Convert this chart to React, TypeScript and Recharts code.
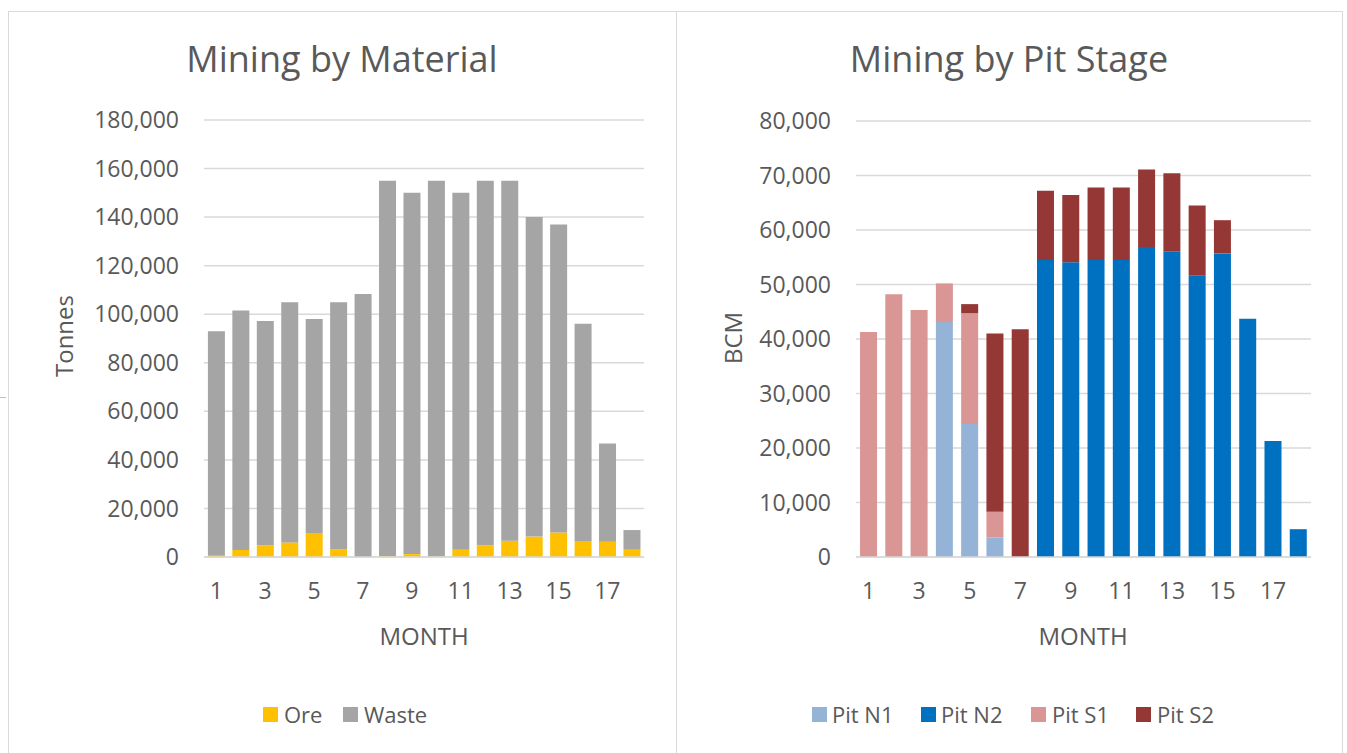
import React from 'react';
import { BarChart, Bar, XAxis, YAxis, CartesianGrid } from 'recharts';

const months = [1, 2, 3, 4, 5, 6, 7, 8, 9, 10, 11, 12, 13, 14, 15, 16, 17, 18];

// Mining by Material (tonnes)
const oreTonnes = [500, 2900, 4700, 6000, 9900, 3100, 0, 300, 1200, 200, 3000, 4700, 6700, 8400, 10100, 6600, 6300, 3000];
const wasteTonnes = [92500, 98600, 92500, 98900, 88100, 101800, 108300, 154700, 148800, 154800, 147000, 150300, 148300, 131600, 126900, 89500, 40400, 8100];

// Mining by Pit Stage (BCM)
const pitN1 = [0, 0, 0, 43100, 24400, 3600, 0, 0, 0, 0, 0, 0, 0, 0, 0, 0, 0, 0];
const pitN2 = [0, 0, 0, 0, 0, 0, 0, 54500, 54100, 54500, 54500, 56900, 56100, 51700, 55700, 43700, 21300, 5100];
const pitS1 = [41300, 48200, 45300, 7100, 20300, 4700, 0, 0, 0, 0, 0, 0, 0, 0, 0, 0, 0, 0];
const pitS2 = [0, 0, 0, 0, 1700, 32700, 41800, 12700, 12300, 13300, 13300, 14200, 14300, 12800, 6100, 0, 0, 0];

const materialTicks = [0, 20000, 40000, 60000, 80000, 100000, 120000, 140000, 160000, 180000];
const pitTicks = [0, 10000, 20000, 30000, 40000, 50000, 60000, 70000, 80000];

const materialData = months.map((m, i) => ({ month: m, Ore: oreTonnes[i], Waste: wasteTonnes[i] }));
const pitData = months.map((m, i) => ({
  month: m,
  'Pit N1': pitN1[i],
  'Pit N2': pitN2[i],
  'Pit S1': pitS1[i],
  'Pit S2': pitS2[i],
}));

const FONT = '"Open Sans", "Noto Sans", sans-serif';
const TEXT = '#595959';
const GRID = '#D9D9D9';
const C_ORE = '#FFC000';
const C_WASTE = '#A5A5A5';
const C_N1 = '#95B3D7';
const C_N2 = '#0070C0';
const C_S1 = '#DA9694';
const C_S2 = '#953735';

const fmt = (v: number) => v.toLocaleString('en-US');
const tickStyle = { fill: TEXT, fontSize: 23, fontFamily: FONT };

export default function App() {
  return (
    <div style={{ position: 'absolute', left: 0, top: 0, width: 1347, height: 753, background: '#fff', overflow: 'hidden' }}>
      <div style={{ position: 'absolute', left: 0, top: 0 }}>
        <BarChart
          width={676}
          height={753}
          data={materialData}
          margin={{ top: 120, right: 32, bottom: 166, left: 104 }}
          barCategoryGap="16%"
        >
          <CartesianGrid vertical={false} stroke={GRID} strokeWidth={1.5} />
          <XAxis
            dataKey="month"
            height={30}
            interval={1}
            tickLine={false}
            tickSize={0}
            tickMargin={26}
            axisLine={{ stroke: GRID, strokeWidth: 1.5 }}
            tick={tickStyle}
          />
          <YAxis
            width={100}
            domain={[0, 180000]}
            ticks={materialTicks}
            tickFormatter={fmt}
            axisLine={false}
            tickLine={false}
            tickSize={0}
            tickMargin={25}
            tick={tickStyle}
          />
          <Bar dataKey="Ore" stackId="m" fill={C_ORE} isAnimationActive={false} />
          <Bar dataKey="Waste" stackId="m" fill={C_WASTE} isAnimationActive={false} />
        </BarChart>
      </div>
      <div style={{ position: 'absolute', left: 676, top: 0 }}>
        <BarChart
          width={671}
          height={753}
          data={pitData}
          margin={{ top: 121, right: 36, bottom: 166, left: 80 }}
          barCategoryGap="16%"
        >
          <CartesianGrid vertical={false} stroke={GRID} strokeWidth={1.5} />
          <XAxis
            dataKey="month"
            height={30}
            interval={1}
            tickLine={false}
            tickSize={0}
            tickMargin={26}
            axisLine={{ stroke: GRID, strokeWidth: 1.5 }}
            tick={tickStyle}
          />
          <YAxis
            width={100}
            domain={[0, 80000]}
            ticks={pitTicks}
            tickFormatter={fmt}
            axisLine={false}
            tickLine={false}
            tickSize={0}
            tickMargin={25}
            tick={tickStyle}
          />
          <Bar dataKey="Pit N1" stackId="p" fill={C_N1} isAnimationActive={false} />
          <Bar dataKey="Pit N2" stackId="p" fill={C_N2} isAnimationActive={false} />
          <Bar dataKey="Pit S1" stackId="p" fill={C_S1} isAnimationActive={false} />
          <Bar dataKey="Pit S2" stackId="p" fill={C_S2} isAnimationActive={false} />
        </BarChart>
      </div>
      <svg
        width={1347}
        height={753}
        style={{ position: 'absolute', left: 0, top: 0, pointerEvents: 'none', fontFamily: FONT }}
      >
        <rect x={8.5} y={11.5} width={668} height={800} fill="none" stroke={GRID} strokeWidth={1} />
        <rect x={676.5} y={11.5} width={666} height={800} fill="none" stroke={GRID} strokeWidth={1} />
        <line x1={0} y1={397.5} x2={6} y2={397.5} stroke="#BFBFBF" strokeWidth={1} />

        <text x={342} y={72} textAnchor="middle" fontSize={36} fill={TEXT}>Mining by Material</text>
        <text x={1009} y={72} textAnchor="middle" fontSize={36} fill={TEXT}>Mining by Pit Stage</text>

        <text transform="translate(73,336) rotate(-90)" textAnchor="middle" fontSize={24} fill={TEXT}>Tonnes</text>
        <text transform="translate(742,338) rotate(-90)" textAnchor="middle" fontSize={24} fill={TEXT}>BCM</text>

        <text x={424} y={645} textAnchor="middle" fontSize={24} fill={TEXT}>MONTH</text>
        <text x={1083} y={645} textAnchor="middle" fontSize={24} fill={TEXT}>MONTH</text>

        <rect x={263} y={707} width={15} height={15} fill={C_ORE} />
        <text x={284} y={723} fontSize={22} fill={TEXT}>Ore</text>
        <rect x={343} y={707} width={15} height={15} fill={C_WASTE} />
        <text x={364} y={723} fontSize={22} fill={TEXT}>Waste</text>

        <rect x={812} y={707} width={15} height={15} fill={C_N1} />
        <text x={832} y={723} fontSize={22} fill={TEXT}>Pit N1</text>
        <rect x={921} y={707} width={15} height={15} fill={C_N2} />
        <text x={941} y={723} fontSize={22} fill={TEXT}>Pit N2</text>
        <rect x={1031} y={707} width={15} height={15} fill={C_S1} />
        <text x={1052} y={723} fontSize={22} fill={TEXT}>Pit S1</text>
        <rect x={1136} y={707} width={15} height={15} fill={C_S2} />
        <text x={1157} y={723} fontSize={22} fill={TEXT}>Pit S2</text>
      </svg>
    </div>
  );
}
